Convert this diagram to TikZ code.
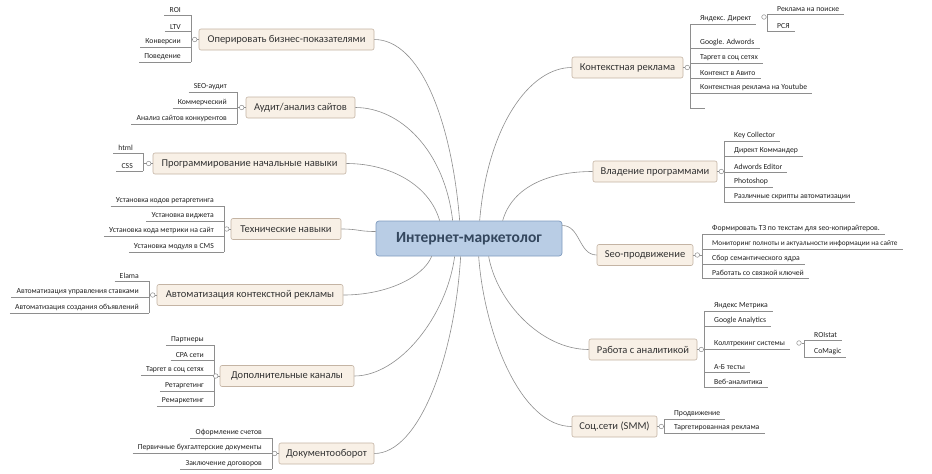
\documentclass[tikz,border=0pt]{standalone}
\usepackage{fontspec}
\setmainfont{Carlito}
\usetikzlibrary{calc}
\definecolor{topicfill}{HTML}{F8F0E6}
\definecolor{topicdraw}{HTML}{C4B4A4}
\definecolor{centerfill}{HTML}{B9CDE5}
\definecolor{centerdraw}{HTML}{7F9BBF}
\definecolor{centertext}{HTML}{34475E}
\definecolor{linegray}{HTML}{8E8E8E}
\definecolor{leaftext}{HTML}{222222}
\begin{document}
\begin{tikzpicture}[x=1pt,y=-1pt,
  topic/.style={draw=topicdraw, fill=topicfill, rounded corners=2pt, line width=0.6pt,
    font=\fontsize{10.5}{12}\selectfont, text=black!80, inner xsep=0pt, inner ysep=0pt, minimum height=21pt},
  centre/.style={draw=centerdraw, fill=centerfill, rounded corners=3pt, line width=0.7pt,
    font=\fontsize{15.5}{17}\bfseries, text=centertext, minimum width=186pt, minimum height=35pt},
  leafbase/.style={inner xsep=0pt, inner ysep=1.8pt, font=\fontsize{7.7}{8.5}\selectfont, text=leaftext},
  lleaf/.style={leafbase, anchor=south east, execute at begin node={\hspace{5pt}}, execute at end node={\hspace{10pt}}},
  rleaf/.style={leafbase, anchor=south west, execute at begin node={\hspace{10pt}}, execute at end node={\hspace{5pt}}},
  leafline/.style={draw=linegray, line width=0.5pt},
  branch/.style={draw=linegray, line width=0.6pt},
  knob/.style={circle, draw=linegray, fill=white, line width=0.5pt, inner sep=0pt, minimum size=4.6pt}
]
\useasboundingbox[fill=white] (0,0) rectangle (932,474);

% centre
\node[centre] (cn) at (469,238.5) {Интернет-маркетолог};

% main topics
\node[topic, minimum width=175pt] (t1) at (286.5,39.5) {Оперировать бизнес-показателями};
\node[topic, minimum width=109pt] (t2) at (300.5,107.5) {Аудит/анализ сайтов};
\node[topic, minimum width=193pt] (t3) at (249.5,163.5) {Программирование начальные навыки};
\node[topic, minimum width=110pt] (t4) at (286,229) {Технические навыки};
\node[topic, minimum width=186pt] (t5) at (250,295) {Автоматизация контекстной рекламы};
\node[topic, minimum width=134pt] (t6) at (287,376) {Дополнительные каналы};
\node[topic, minimum width=95pt] (t7) at (326.5,453.5) {Документооборот};
\node[topic, minimum width=111pt] (t8) at (627.5,67.5) {Контекстная реклама};
\node[topic, minimum width=124pt] (t9) at (655,171.5) {Владение программами};
\node[topic, minimum width=96pt] (t10) at (645,255) {Seo-продвижение};
\node[topic, minimum width=108pt] (t11) at (643,349.5) {Работа с аналитикой};
\node[topic, minimum width=85pt] (t12) at (614.5,426.5) {Соц.сети (SMM)};

% branches from centre
\draw[branch] (t1.east) .. controls +(46,0) and +(-8,-100) .. ($(cn.north west)+(84,0)$);
\draw[branch] (t2.east) .. controls +(45,0) and +(-8,-70) .. ($(cn.north west)+(77,0)$);
\draw[branch] (t3.east) .. controls +(45,0) and +(-10,-35) .. ($(cn.north west)+(64,0)$);
\draw[branch] (t4.east) .. controls +(18,0) and +(-18,0) .. ($(cn.west)+(0,-7)$);
\draw[branch] (t5.east) .. controls +(45,0) and +(-8,20) .. ($(cn.south west)+(56,0)$);
\draw[branch] (t6.east) .. controls +(45,0) and +(-8,60) .. ($(cn.south west)+(79,0)$);
\draw[branch] (t7.east) .. controls +(45,0) and +(-6,100) .. ($(cn.south west)+(85,0)$);
\draw[branch] (t8.west) .. controls +(-42,0) and +(8,-95) .. ($(cn.north west)+(104,0)$);
\draw[branch] (t9.west) .. controls +(-42,0) and +(10,-35) .. ($(cn.north west)+(127,0)$);
\draw[branch] (t10.west) .. controls +(-18,0) and +(18,0) .. ($(cn.east)+(0,-13)$);
\draw[branch] (t11.west) .. controls +(-48,0) and +(8,45) .. ($(cn.south west)+(113,0)$);
\draw[branch] (t12.west) .. controls +(-50,0) and +(6,80) .. ($(cn.south west)+(103,0)$);

% ---------- left leaves ----------
\node[lleaf] (a1) at (191,15) {ROI};
\node[lleaf] (a2) at (191,31) {LTV};
\node[lleaf] (a3) at (191,47) {Конверсии};
\node[lleaf] (a4) at (191,62) {Поведение};

\node[lleaf] (b1) at (237,92) {SEO-аудит};
\node[lleaf] (b2) at (237,108) {Коммерческий};
\node[lleaf] (b3) at (237,124) {Анализ сайтов конкурентов};

\node[lleaf] (c1) at (143,153) {html};
\node[lleaf] (c2) at (143,171) {CSS};

\node[lleaf] (d1) at (224,206) {Установка кодов ретаргетинга};
\node[lleaf] (d2) at (224,221) {Установка виджета};
\node[lleaf] (d3) at (224,236) {Установка кода метрики на сайт};
\node[lleaf] (d4) at (224,252) {Установка модуля в CMS};

\node[lleaf] (e1) at (149,281) {Elama};
\node[lleaf] (e2) at (149,297) {Автоматизация управления ставками};
\node[lleaf] (e3) at (149,313) {Автоматизация создания объявлений};

\node[lleaf] (f1) at (214,345) {Партнеры};
\node[lleaf] (f2) at (214,360) {CPA сети};
\node[lleaf] (f3) at (214,375) {Таргет в соц сетях};
\node[lleaf] (f4) at (214,391) {Ретаргетинг};
\node[lleaf] (f5) at (214,406) {Ремаркетинг};

\node[lleaf] (g1) at (272,438) {Оформление счетов};
\node[lleaf] (g2) at (272,453) {Первичные бухгалтерские документы};
\node[lleaf] (g3) at (272,469) {Заключение договоров};

% ---------- right leaves ----------
\node[rleaf] (h1) at (690,24) {Яндекс. Директ};
\node[rleaf] (h2) at (690,48) {Google. Adwords};
\node[rleaf] (h3) at (690,63) {Таргет в соц сетях};
\node[rleaf] (h4) at (690,78) {Контекст в Авито};
\node[rleaf] (h5) at (690,93) {Контекстная реклама на Youtube};
\node[rleaf] (h6) at (690,108) {};
\node[rleaf] (hs1) at (767,14) {Реклама на поиске};
\node[rleaf] (hs2) at (767,31) {РСЯ};

\node[rleaf] (i1) at (724,141) {Key Collector};
\node[rleaf] (i2) at (724,156) {Директ Коммандер};
\node[rleaf] (i3) at (724,172) {Adwords Editor};
\node[rleaf] (i4) at (724,187) {Photoshop};
\node[rleaf] (i5) at (724,202) {Различные скрипты автоматизации};

\node[rleaf] (j1) at (702,234) {Формировать ТЗ по текстам для seo-копирайтеров.};
\node[rleaf, font=\fontsize{7.3}{8}\selectfont] (j2) at (702,249) {Мониторинг полноты и актуальности информации на сайте};
\node[rleaf] (j3) at (702,264) {Сбор семантического ядра};
\node[rleaf] (j4) at (702,278) {Работать со связкой ключей};

\node[rleaf] (k1) at (704,311) {Яндекс Метрика};
\node[rleaf] (k2) at (704,326) {Google Analytics};
\node[rleaf] (k3) at (704,349) {Коллтрекинг системы};
\node[rleaf] (k4) at (704,372) {А-Б тесты};
\node[rleaf] (k5) at (704,387) {Веб-аналитика};
\node[rleaf] (ks1) at (804,340) {ROIstat};
\node[rleaf] (ks2) at (804,357) {CoMagic};

\node[rleaf] (m1) at (664,419) {Продвижение};
\node[rleaf] (m2) at (664,433) {Таргетированная реклама};

% underlines
\foreach \n in {a1,a2,a3,a4,b1,b2,b3,c1,c2,d1,d2,d3,d4,e1,e2,e3,f1,f2,f3,f4,f5,g1,g2,g3,
  h1,h2,h3,h4,h5,h6,hs1,hs2,i1,i2,i3,i4,i5,j1,j2,j3,j4,k1,k2,k3,k4,k5,ks1,ks2,m1,m2}
  \draw[leafline] (\n.south west) -- (\n.south east);

% spines
\draw[leafline] (a1.south east) -- (a4.south east);
\draw[leafline] (b1.south east) -- (b3.south east);
\draw[leafline] (c1.south east) -- (c2.south east);
\draw[leafline] (d1.south east) -- (d4.south east);
\draw[leafline] (e1.south east) -- (e3.south east);
\draw[leafline] (f1.south east) -- (f5.south east);
\draw[leafline] (g1.south east) -- (g3.south east);
\draw[leafline] (h1.south west) -- (h6.south west);
\draw[leafline] (hs1.south west) -- (hs2.south west);
\draw[leafline] (i1.south west) -- (i5.south west);
\draw[leafline] (j1.south west) -- (j4.south west);
\draw[leafline] (k1.south west) -- (k5.south west);
\draw[leafline] (ks1.south west) -- (ks2.south west);
\draw[leafline] (m1.south west) -- (m2.south west);

% knobs and links to spines
\node[knob] (n1) at ($(t1.west)+(-4,0)$) {};
\node[knob] (n2) at ($(t2.west)+(-4,0)$) {};
\node[knob] (n3) at ($(t3.west)+(-4,0)$) {};
\node[knob] (n4) at ($(t4.west)+(-4,0)$) {};
\node[knob] (n5) at ($(t5.west)+(-4,0)$) {};
\node[knob] (n6) at ($(t6.west)+(-4,0)$) {};
\node[knob] (n7) at ($(t7.west)+(-4,0)$) {};
\node[knob] (n8) at ($(t8.east)+(4,0)$) {};
\node[knob] (n9) at ($(t9.east)+(4,0)$) {};
\node[knob] (n10) at ($(t10.east)+(4,0)$) {};
\node[knob] (n11) at ($(t11.east)+(4,0)$) {};
\node[knob] (n12) at ($(t12.east)+(4,0)$) {};
\node[knob] (nh) at (764,17) {};
\node[knob] (nk) at (799,343) {};

\draw[leafline] (t1.west) -- (n1) -- (n1 -| a1.south east);
\draw[leafline] (t2.west) -- (n2) -- (n2 -| b1.south east);
\draw[leafline] (t3.west) -- (n3) -- (n3 -| c1.south east);
\draw[leafline] (t4.west) -- (n4) -- (n4 -| d1.south east);
\draw[leafline] (t5.west) -- (n5) -- (n5 -| e1.south east);
\draw[leafline] (t6.west) -- (n6) -- (n6 -| f1.south east);
\draw[leafline] (t7.west) -- (n7) -- (n7 -| g1.south east);
\draw[leafline] (t8.east) -- (n8) -- (n8 -| h1.south west);
\draw[leafline] (t9.east) -- (n9) -- (n9 -| i1.south west);
\draw[leafline] (t10.east) -- (n10) -- (n10 -| j1.south west);
\draw[leafline] (t11.east) -- (n11) -- (n11 -| k1.south west);
\draw[leafline] (t12.east) -- (n12) -- (n12 -| m1.south west);
\draw[leafline] (nh) -- (nh -| hs1.south west);
\draw[leafline] (nk) -- (nk -| ks1.south west);
\end{tikzpicture}
\end{document}
